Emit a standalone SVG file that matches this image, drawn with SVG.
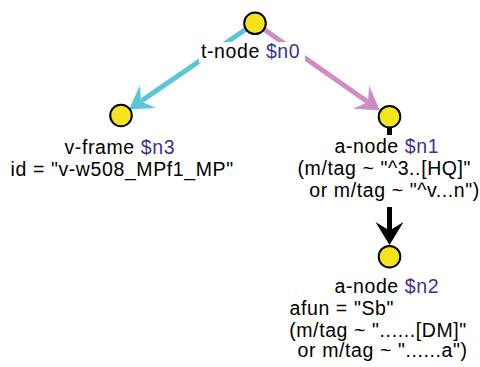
<svg xmlns="http://www.w3.org/2000/svg" width="480" height="367" viewBox="0 0 480 367">
  <defs>
    <style>
      .lbl{font-family:"Liberation Sans",Arial,sans-serif;font-size:19.5px;letter-spacing:0.6px;fill:#000}
      .var{fill:#3b3196}
      .bg{fill:#fff}
      .node{fill:#f4e51b;stroke:#000;stroke-width:2}
      .edge{fill:none;stroke-width:5}
    </style>
    <!-- swept-back arrowheads; origin sits at the neck where the shaft ends -->
    <marker id="ah-cyan" markerUnits="userSpaceOnUse" orient="auto" refX="0" refY="0" markerWidth="40" markerHeight="40" overflow="visible">
      <path d="M16,0 L-7,-14 L0,-2.5 L0,2.5 L-7,14 Z" fill="#5cc6d8"/>
    </marker>
    <marker id="ah-pink" markerUnits="userSpaceOnUse" orient="auto" refX="0" refY="0" markerWidth="40" markerHeight="40" overflow="visible">
      <path d="M16,0 L-7,-14 L0,-2.5 L0,2.5 L-7,14 Z" fill="#cf8cc4"/>
    </marker>
    <marker id="ah-black" markerUnits="userSpaceOnUse" orient="auto" refX="0" refY="0" markerWidth="40" markerHeight="40" overflow="visible">
      <path d="M16,0 L-7,-14 L0,-2.5 L0,2.5 L-7,14 Z" fill="#000"/>
    </marker>
  </defs>

  <g id="connectors">
    <path class="edge" d="M255,23 L142.2,100.4" stroke="#5cc6d8" marker-end="url(#ah-cyan)"/>
    <path class="edge" d="M255,23 L366.8,101.2" stroke="#cf8cc4" marker-end="url(#ah-pink)"/>
    <path class="edge" d="M389.5,117 L389.5,229" stroke="#000" marker-end="url(#ah-black)"/>
  </g>

  <g id="n0">
    <rect class="bg" x="199" y="42" width="106" height="21"/>
    <text class="lbl" x="201" y="58.3">t-node <tspan class="var">$n0</tspan></text>
    <circle class="node" cx="255" cy="23.3" r="10.8"/>
  </g>

  <g id="n3">
    <text class="lbl" x="64.5" y="154">v-frame <tspan class="var">$n3</tspan></text>
    <text class="lbl" x="10.5" y="175.5">id = "v-w508_MPf1_MP"</text>
    <circle class="node" cx="121" cy="115.5" r="10.8"/>
  </g>

  <g id="n1">
    <rect class="bg" x="296" y="135" width="183" height="72"/>
    <text class="lbl" x="334.5" y="153.3">a-node <tspan class="var">$n1</tspan></text>
    <text class="lbl" x="297.5" y="175">(m/tag ~ "^3..[HQ]"</text>
    <text class="lbl" x="309.3" y="196.7">or m/tag ~ "^v...n")</text>
    <circle class="node" cx="389.5" cy="116.7" r="10.8"/>
  </g>

  <g id="n2">
    <text class="lbl" x="334.5" y="292.7">a-node <tspan class="var">$n2</tspan></text>
    <text class="lbl" x="289.5" y="315">afun = "Sb"</text>
    <text class="lbl" x="289.2" y="336.5">(m/tag ~ "......[DM]"</text>
    <text class="lbl" x="297.6" y="357.3">or m/tag ~ "......a")</text>
    <circle class="node" cx="389.5" cy="256.7" r="10.8"/>
  </g>
</svg>
